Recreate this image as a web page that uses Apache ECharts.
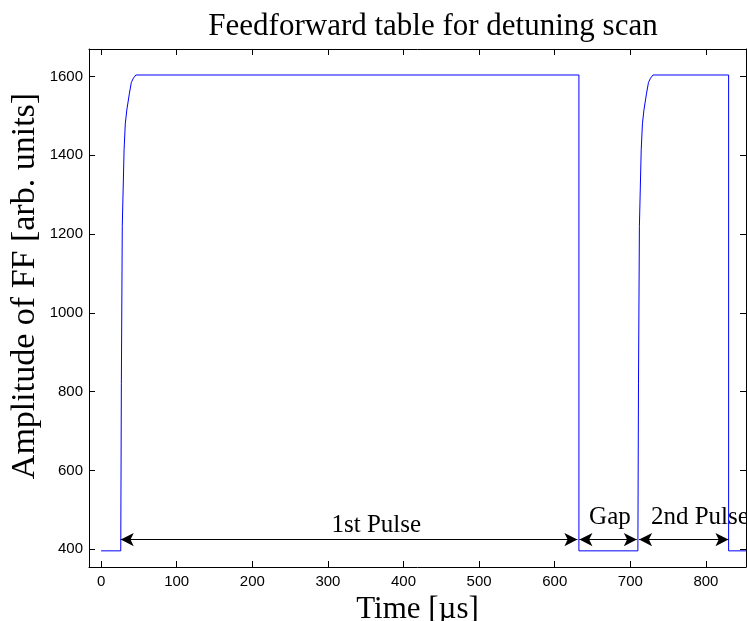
<!DOCTYPE html>
<html>
<head>
<meta charset="utf-8">
<script src="https://cdn.jsdelivr.net/npm/echarts@6/dist/echarts.min.js"></script>
<style>html,body{margin:0;padding:0;background:#fff}#c{width:747px;height:621px}</style>
</head>
<body>
<div id="c"></div>
<script>
// Feedforward table data (time in µs, amplitude in arb. units)
const timeUs = [0, 26, 26.8, 28, 30.4, 32, 34, 37.5, 40, 42.7, 46, 632, 632,
  710, 710.8, 712, 714.4, 716, 718, 721.5, 724, 726.7, 730, 830, 830, 853];
const amplitude = [396, 396, 820, 1220, 1414, 1480, 1515, 1558, 1585, 1596, 1604, 1604, 396,
  396, 820, 1220, 1414, 1480, 1515, 1558, 1585, 1596, 1604, 1604, 396, 396];

const xTicks = [0, 100, 200, 300, 400, 500, 600, 700, 800];
const yTicks = [400, 600, 800, 1000, 1200, 1400, 1600];

// Annotation arrows: [start, end] in µs at arrow level
const arrowStarts = [26, 632.7, 711.6];
const arrowEnds = [630, 708.6, 829.8];
const arrowLevel = 424.6;
const annotationLabels = ['1st Pulse', 'Gap', '2nd Pulse'];
const annotationX = [364, 673, 792];
const annotationY = [460, 481, 481];

const xMin = -16, xMax = 853, yMin = 355, yMax = 1670;

const chart = echarts.init(document.getElementById('c'), null, {renderer: 'canvas'});
const serif = 'Liberation Serif';
const sans = 'Liberation Sans';

const lineData = timeUs.map((t, i) => [t, amplitude[i]]);
const arrowData = arrowStarts.map((s, i) => [
  {coord: [s, arrowLevel]}, {coord: [arrowEnds[i], arrowLevel]}
]);
const labelData = annotationLabels.map((n, i) => ({name: n, value: [annotationX[i], annotationY[i]]}));

const tickStyle = {show: true, inside: true, length: 6, lineStyle: {color: '#000', width: 1}};

chart.setOption({
  animation: false,
  backgroundColor: '#fff',
  title: {
    text: 'Feedforward table for detuning scan',
    left: 428, top: 6, textAlign: 'center',
    textStyle: {fontFamily: serif, fontSize: 31, fontWeight: 'normal', color: '#000'}
  },
  grid: {left: 89, right: 1, top: 49, bottom: 54, containLabel: false, outerBoundsMode: 'none'},
  xAxis: [{
    type: 'value', min: xMin, max: xMax,
    name: 'Time [µs]', nameLocation: 'middle', nameGap: 22,
    nameTextStyle: {fontFamily: serif, fontSize: 31, color: '#000'},
    axisLine: {show: true, onZero: false, lineStyle: {color: '#000', width: 1}},
    axisTick: Object.assign({customValues: xTicks}, tickStyle),
    axisLabel: {customValues: xTicks, margin: 7, fontFamily: sans, fontSize: 15, color: '#000',
      formatter: v => String(v)},
    splitLine: {show: false}
  }, {
    type: 'value', min: xMin, max: xMax, position: 'top',
    axisLine: {show: true, onZero: false, lineStyle: {color: '#000', width: 1}},
    axisTick: Object.assign({customValues: xTicks}, tickStyle),
    axisLabel: {show: false},
    splitLine: {show: false}
  }],
  yAxis: [{
    type: 'value', min: yMin, max: yMax,
    name: 'Amplitude of FF [arb. units]', nameLocation: 'middle', nameGap: 47,
    nameMoveOverlap: false,
    nameTextStyle: {fontFamily: serif, fontSize: 34, color: '#000', padding: [0, 0, 0, 44]},
    axisLine: {show: true, onZero: false, lineStyle: {color: '#000', width: 1}},
    axisTick: Object.assign({customValues: yTicks}, tickStyle),
    axisLabel: {customValues: yTicks, margin: 6, fontFamily: sans, fontSize: 15, color: '#000',
      formatter: v => String(v)},
    splitLine: {show: false}
  }, {
    type: 'value', min: yMin, max: yMax, position: 'right',
    axisLine: {show: true, onZero: false, lineStyle: {color: '#000', width: 1}},
    axisTick: Object.assign({customValues: yTicks}, tickStyle),
    axisLabel: {show: false},
    splitLine: {show: false}
  }],
  series: [{
    type: 'line',
    data: lineData,
    showSymbol: false,
    symbol: 'none',
    lineStyle: {color: '#0000ff', width: 1},
    clip: true,
    markLine: {
      silent: true,
      symbol: ['arrow', 'arrow'],
      symbolSize: [10, 13],
      label: {show: false},
      lineStyle: {color: '#000', width: 1, type: 'solid'},
      itemStyle: {color: '#000'},
      data: arrowData
    }
  }, {
    type: 'scatter',
    data: labelData,
    symbolSize: 0,
    silent: true,
    itemStyle: {color: '#000', opacity: 1},
    label: {
      show: true, position: 'inside', formatter: p => p.name,
      fontFamily: serif, fontSize: 25, color: '#000', opacity: 1,
      textBorderWidth: 0, textBorderColor: 'transparent'
    }
  }]
});
</script>
</body>
</html>
